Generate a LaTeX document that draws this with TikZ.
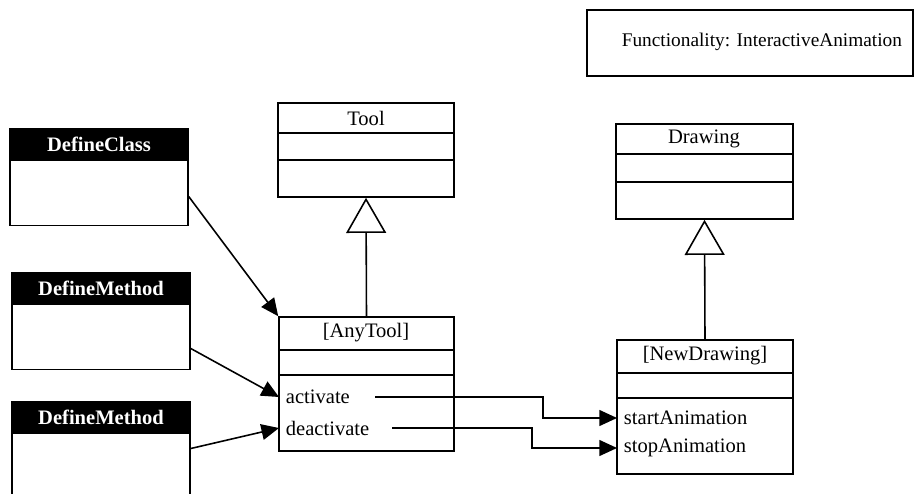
\documentclass[tikz,border=0pt]{standalone}
\usepackage{fontspec}
\setmainfont{Liberation Serif}
\usetikzlibrary{positioning}
\usetikzlibrary{fit}
\usetikzlibrary{arrows.meta}

\begin{document}
\begin{tikzpicture}[x=0.02cm, y=-0.02cm,
            line width=0.9pt,
            every node/.style = {font=\fontsize{11.7}{14}\selectfont},
            box/.style = {draw, inner sep=0pt},
            head/.style = {draw, fill=black, inner sep=0pt},
            headtext/.style = {text=white, font=\fontsize{11.7}{14}\selectfont\bfseries},
            body/.style = {draw, below=0pt of #1, minimum width=3.56cm,
                minimum height=1.3cm},
            meth/.style = {anchor=west, inner xsep=3.5pt, inner ysep=1pt},
            call/.style = {-{Triangle[length=10pt, width=9pt]}},
            isa/.style = {-{Triangle[open, length=20pt, width=22.7pt, fill=white]}}]
            \path[use as bounding box, clip] (0,0) rectangle (915,493);
            % functionality label
            \node[box, fit={(587,10) (913,76)}] (funcbox) {};
            \node[anchor=west, inner sep=0pt, font=\fontsize{11}{13}\selectfont]
                (functext) at (621,42) {Functionality: InteractiveAnimation};
            % feature boxes on the left
            \node[head, fit={(10,129) (188,159)}] (dchead) {};
            \node[headtext] (dcname) at (dchead.center) {DefineClass};
            \node[body=dchead] (dcbody) {};
            \node[head, fit={(12,273) (190,303)}] (dm1head) {};
            \node[headtext] (dm1name) at (dm1head.center) {DefineMethod};
            \node[body=dm1head] (dm1body) {};
            \node[head, fit={(12,402) (190,432)}] (dm2head) {};
            \node[headtext] (dm2name) at (dm2head.center) {DefineMethod};
            \node[body=dm2head] (dm2body) {};
            % Tool and [AnyTool]
            \node[box, fit={(278,103) (454,197)}] (tool) {};
            \node (toolname) at (366,118) {Tool};
            \draw (tool.west |- 0,133) -- (tool.east |- 0,133);
            \draw (tool.west |- 0,160) -- (tool.east |- 0,160);
            \node[box, fit={(279,317) (454,451)}] (anytool) {};
            \node (anyname) at (366,333) {[AnyTool]};
            \draw (anytool.west |- 0,350) -- (anytool.east |- 0,350);
            \draw (anytool.west |- 0,375) -- (anytool.east |- 0,375);
            \node[meth] (act) at (279,397) {activate};
            \node[meth] (deact) at (279,428) {deactivate};
            % Drawing and [NewDrawing]
            \node[box, fit={(616,124) (793,219)}] (drawing) {};
            \node (drawname) at (704,139) {Drawing};
            \draw (drawing.west |- 0,154) -- (drawing.east |- 0,154);
            \draw (drawing.west |- 0,182) -- (drawing.east |- 0,182);
            \node[box, fit={(617,340) (793,474)}] (newdraw) {};
            \node (newname) at (705,356) {[NewDrawing]};
            \draw (newdraw.west |- 0,373) -- (newdraw.east |- 0,373);
            \draw (newdraw.west |- 0,398) -- (newdraw.east |- 0,398);
            \node[meth] (startA) at (617,418) {startAnimation};
            \node[meth] (stopA) at (617,448) {stopAnimation};
            % connectors
            \draw[isa] (anytool.north) -- (tool.south);
            \draw[isa] (newdraw.north) -- (drawing.south);
            \draw[call] ([yshift=-2pt]dcbody.east) -- (anytool.north west);
            \draw[call] ([yshift=-6.5pt]dm1body.east) -- (act.west);
            \draw[call] ([yshift=10pt]dm2body.east) -- (deact.west);
            \coordinate (actout) at (375,397);
            \coordinate (deactout) at (392,428);
            \draw[call] (actout) -- ++(168,0) |- (startA.west);
            \draw[call] (deactout) -- ++(140,0) |- (stopA.west);
\end{tikzpicture}
\end{document}
